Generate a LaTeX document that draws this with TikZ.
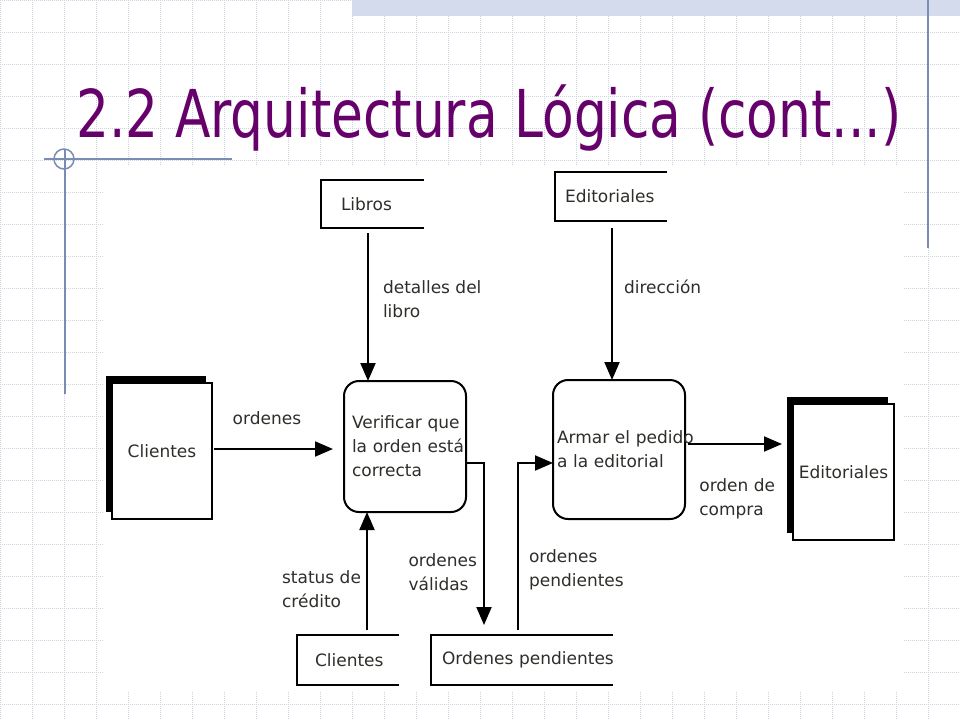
\documentclass[tikz,border=0pt]{standalone}
\usepackage{fontspec}
\setmainfont{DejaVu Sans}
\usepackage{graphicx}
\usetikzlibrary{positioning,arrows.meta,calc,shadows}
\definecolor{slidePurple}{HTML}{66006A}
\definecolor{slideBlue}{HTML}{7A8CB4}
\definecolor{gridGray}{HTML}{CDD2E4}
\definecolor{bandBlue}{HTML}{D3DBEC}
\definecolor{dfdText}{HTML}{2E2E2A}
\newcommand{\dfdfont}{\fontsize{17pt}{24pt}\selectfont}
\tikzset{
  gridline/.style={gridGray, line width=1pt, dash pattern=on 1pt off 1pt},
  guide/.style={slideBlue, line width=1.5pt},
  process/.style={rectangle, rounded corners=15pt, draw=black, line width=2pt,
    fill=white, text=dfdText, font=\dfdfont, align=left, outer sep=0pt},
  entity/.style={rectangle, draw=black, line width=2pt, fill=white,
    text=dfdText, font=\dfdfont, outer sep=0pt,
    drop shadow={shadow xshift=-6pt, shadow yshift=7pt, opacity=1, fill=black}},
  storetext/.style={rectangle, text=dfdText, font=\dfdfont, align=left,
    inner ysep=0pt, outer sep=0pt},
  storeline/.style={draw=black, line width=2pt},
  flow/.style={-{Triangle[length=18pt,width=15pt]}, line width=2pt, black},
  flowlbl/.style={text=dfdText, font=\dfdfont, align=left, inner sep=0pt},
}

\begin{document}
\begin{tikzpicture}[x=1pt, y=-1pt]
\useasboundingbox (0,0) rectangle (960,720);

% ---------- slide background ----------
\foreach \gx in {0,32,...,960}
  \draw[gridline] (\gx,0) -- (\gx,720);
\foreach \gy in {0,32,...,704}
  \draw[gridline] (0,\gy) -- (960,\gy);
\fill[bandBlue] (352,0) rectangle (960,16);
\draw[guide] (928,0) -- (928,248);
\draw[guide] (65,150) -- (65,394);
\draw[guide] (44,159) -- (232,159);
\draw[guide] (64,159) circle (10);
\fill[white] (103,165) rectangle (903,692);

% ---------- title ----------
\node[anchor=base west, inner sep=0pt, text=slidePurple,
      font=\fontsize{66pt}{70pt}\selectfont] (title) at (76,137)
  {\scalebox{0.785}[1]{2.2 Arquitectura Lógica (cont...)}};

% ---------- processes ----------
\node[process, minimum width=122pt, minimum height=131pt,
      inner xsep=8pt, text width=106pt] (verificar) at (405,446.5)
  {\mbox{Verificar que}\\\mbox{la orden está}\\\mbox{correcta}};
\node[process, minimum width=132pt, minimum height=139pt,
      inner xsep=4pt, text width=124pt] (armar) at (619,449.5)
  {\mbox{Armar el pedido}\\\mbox{a la editorial}};

% ---------- external entities ----------
\node[entity, minimum width=100pt, minimum height=136pt] (clientes) at (162,451)
  {Clientes};
\node[entity, minimum width=101pt, minimum height=136pt] (editoriales) at (843.5,472)
  {Editoriales};

% ---------- data stores ----------
\node[storetext, minimum width=103pt, minimum height=48pt,
      inner xsep=20pt, text width=63pt] (libros) at (372.5,204) {Libros};
\node[storetext, minimum width=112pt, minimum height=49pt,
      inner xsep=10pt, text width=92pt] (edtop) at (611,196.5) {Editoriales};
\node[storetext, minimum width=102pt, minimum height=50pt,
      inner xsep=18pt, text width=66pt] (clibot) at (348,660) {\mbox{Clientes}};
\node[storetext, minimum width=182pt, minimum height=50pt,
      inner xsep=11pt, text width=160pt] (ordpend) at (522,660) {\mbox{Ordenes pendientes}};

\draw[storeline] (libros.north east) -- (libros.north west)
  -- (libros.south west) -- (libros.south east);
\draw[storeline] (edtop.north east) -- (edtop.north west)
  -- (edtop.south west) -- (edtop.south east);
\draw[storeline] (clibot.north east) -- (clibot.north west)
  -- (clibot.south west) -- (clibot.south east);
\draw[storeline] (ordpend.north east) -- (ordpend.north west)
  -- (ordpend.south west) -- (ordpend.south east);

% ---------- data flows ----------
\draw[flow] ($(libros.south)+(-4.5,5)$) -- ($(verificar.north)+(-37,0)$)
  node[flowlbl, pos=0.45, anchor=west, xshift=14pt] (lblLibro) {detalles del\\libro};
\draw[flow] ($(edtop.south)+(1,7)$) -- ($(armar.north)+(-7,0)$)
  node[flowlbl, pos=0.39, anchor=west, xshift=11pt] (lblDir) {dirección};
\draw[flow] ($(clientes.east)+(2,-2)$) -- ($(verificar.west)+(-11,2.5)$)
  node[flowlbl, pos=0.445, yshift=31pt] (lblOrd) {ordenes};
\draw[flow] ($(armar.east)+(3,-5.5)$) -- ($(editoriales.west)+(-11,-28)$)
  node[flowlbl, pos=0.11, anchor=west, yshift=-55pt] (lblCompra) {orden de\\compra};
\draw[flow] ($(verificar.east)+(0,16.5)$) -| ($(ordpend.north)+(-38,-10)$)
  node[flowlbl, pos=0.836, anchor=east, xshift=-6pt] (lblValidas) {ordenes\\válidas};
\draw[flow] ($(ordpend.north)+(-4,-5)$) |- ($(armar.west)+(0,13.5)$)
  node[flowlbl, pos=0.18, anchor=west, xshift=10pt] (lblPend) {ordenes\\pendientes};
\draw[flow] ($(clibot.north)+(19,-5)$) -- ($(verificar.south)+(-38,0)$)
  node[flowlbl, pos=0.343, anchor=east, xshift=-5pt] (lblCredito) {status de\\crédito};

\end{tikzpicture}
\end{document}
